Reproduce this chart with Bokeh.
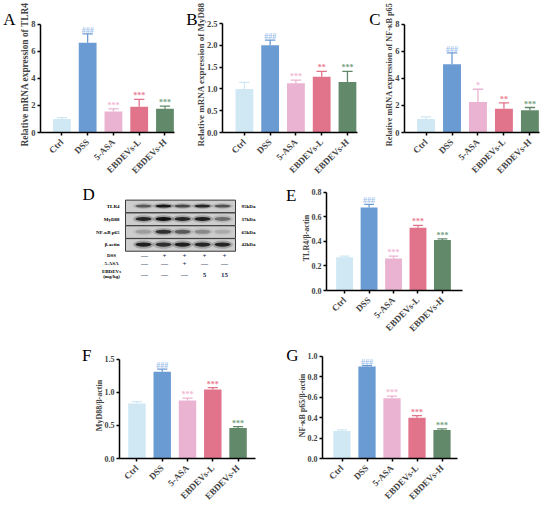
import math
from bokeh.plotting import figure
from bokeh.layouts import row, column
from bokeh.models import Range1d, FixedTicker, LinearAxis, PrintfTickFormatter
from bokeh.core.properties import value
from bokeh.embed import file_html
from bokeh.resources import INLINE

FONT = "Liberation Serif"

groups = ["Ctrl", "DSS", "5-ASA", "EBDEVs-L", "EBDEVs-H"]
bar_colors = ["#cfe8f4", "#6b9bd3", "#eab3d1", "#e1738b", "#62896a"]
mark_colors = ["#cfe8f4", "#9cc0ea", "#f3b7d7", "#eb7a92", "#73a07d"]

# Panel A: Relative mRNA expression of TLR4
tlr4_mrna = [1.0, 6.65, 1.55, 1.9, 1.75]
tlr4_mrna_top = [1.1, 7.3, 1.75, 2.45, 1.95]
tlr4_mrna_marks = ["", "###", "***", "***", "***"]
# Panel B: Relative mRNA expression of MyD88
myd88_mrna = [1.0, 2.0, 1.13, 1.28, 1.16]
myd88_mrna_top = [1.15, 2.12, 1.2, 1.4, 1.4]
myd88_mrna_marks = ["", "###", "***", "**", "***"]
# Panel C: Relative mRNA expression of NF-kB p65
nfkb_mrna = [1.0, 5.05, 2.25, 1.75, 1.65]
nfkb_mrna_top = [1.15, 5.9, 3.2, 2.2, 1.85]
nfkb_mrna_marks = ["", "###", "*", "**", "***"]
# Panel E: TLR4/beta-actin
tlr4_prot = [0.27, 0.675, 0.26, 0.51, 0.41]
tlr4_prot_top = [0.28, 0.70, 0.28, 0.53, 0.42]
tlr4_prot_marks = ["", "###", "***", "***", "***"]
# Panel F: MyD88/beta-actin
myd88_prot = [0.83, 1.31, 0.875, 1.04, 0.46]
myd88_prot_top = [0.86, 1.35, 0.91, 1.07, 0.48]
myd88_prot_marks = ["", "###", "***", "***", "***"]
# Panel G: NF-kB p65/beta-actin
nfkb_prot = [0.27, 0.90, 0.59, 0.40, 0.28]
nfkb_prot_top = [0.28, 0.91, 0.61, 0.42, 0.29]
nfkb_prot_marks = ["", "###", "***", "***", "***"]

# Panel D: western blot
blot_rows = ["TLR4", "MyD88", "NF-\u03baB p65", "\u03b2-actin"]
blot_kda = ["95kDa", "37kDa", "65kDa", "42kDa"]
band_tlr4 = [0.55, 0.95, 0.65, 0.85, 0.6]
band_myd88 = [0.85, 1.0, 0.85, 0.9, 0.45]
band_nfkb = [0.2, 0.8, 0.55, 0.3, 0.15]
band_actin = [0.9, 0.8, 0.9, 0.85, 0.85]
treat_rows = ["DSS", "5-ASA", "EBDEVs", "(mg/kg)"]
treat_dss = ["\u2014", "+", "+", "+", "+"]
treat_asa = ["\u2014", "\u2014", "+", "\u2014", "\u2014"]
treat_ebd = ["\u2014", "\u2014", "\u2014", "5", "15"]


def bar_panel(w, h, fl, fw, ft, fh, xr, ymax, yticks, fmt, vals, tops, marks,
              ytitle, tick_size, title_size, letter, lcy, lstand):
    # frame is extended upward so the panel letter (an extra left axis label) fits
    ft_new = max(0, min(ft, int(lcy) - 3))
    ytop = ymax + (ft - ft_new) / fh * ymax
    p = figure(width=w, height=h, x_range=Range1d(*xr), y_range=Range1d(0, ytop),
               output_backend="svg", toolbar_location=None,
               min_border_left=fl, min_border_right=w - fl - fw,
               min_border_top=ft_new, min_border_bottom=h - ft - fh)
    p.outline_line_color = None
    p.grid.visible = False
    idx = list(range(len(groups)))
    p.vbar(x=idx, top=vals, width=0.69, fill_color=bar_colors, line_color=None)
    p.segment(x0=idx, y0=vals, x1=idx, y1=tops, line_color=bar_colors, line_width=1.3)
    p.segment(x0=[i - 0.2 for i in idx], y0=tops, x1=[i + 0.2 for i in idx], y1=tops,
              line_color=bar_colors, line_width=1.3)
    p.text(x=idx, y=tops, text=marks, text_color=mark_colors, text_align="center",
           text_baseline="bottom", text_font=value(FONT), text_font_style="bold",
           text_font_size="8px", y_offset=1)
    xa = p.xaxis[0]
    xa.ticker = FixedTicker(ticks=idx)
    xa.major_label_overrides = {i: g for i, g in zip(idx, groups)}
    xa.major_label_orientation = math.pi / 4
    ya = p.yaxis[0]
    ya.ticker = FixedTicker(ticks=yticks)
    ya.formatter = PrintfTickFormatter(format=fmt)
    ya.bounds = (0, ymax)
    ya.axis_label = ytitle
    ya.axis_label_text_font = FONT
    ya.axis_label_text_font_style = "bold"
    ya.axis_label_text_font_size = title_size
    ya.axis_label_standoff = -2
    for ax in (xa, ya):
        ax.axis_line_width = 1.5
        ax.axis_line_color = "black"
        ax.major_tick_line_width = 1.5
        ax.major_tick_out = 3
        ax.major_tick_in = 0
        ax.minor_tick_line_color = None
        ax.major_label_text_font = FONT
        ax.major_label_text_font_style = "bold"
        ax.major_label_text_font_size = tick_size
        ax.major_label_standoff = 2
    xa.major_label_text_font_size = "9px"
    xa.major_label_standoff = 5
    # panel letter drawn as the label of an extra, line-less left axis
    yl = ymax - (lcy - ft) / fh * ymax
    la = LinearAxis(ticker=FixedTicker(ticks=[yl]), major_label_overrides={yl: letter},
                    axis_line_color=None, major_tick_line_color=None,
                    major_tick_out=0, major_tick_in=0, minor_tick_out=0, minor_tick_in=0,
                    minor_tick_line_color=None, major_label_standoff=lstand,
                    major_label_text_font=FONT, major_label_text_font_size="17px",
                    major_label_text_font_style="normal", major_label_text_color="black")
    p.add_layout(la, "left")
    return p


pA = bar_panel(183, 182, 39, 135, 23, 109, (-0.83, 4.37), 8, [0, 2, 4, 6, 8], "%d",
               tlr4_mrna, tlr4_mrna_top, tlr4_mrna_marks,
               "Relative mRNA expression of TLR4", "8.5px", "9.4px", "A", 18.5, 2)
pB = bar_panel(183, 182, 39, 135, 23, 109, (-0.85, 4.39), 2.5,
               [0, 0.5, 1.0, 1.5, 2.0, 2.5], "%.1f",
               myd88_mrna, myd88_mrna_top, myd88_mrna_marks,
               "Relative mRNA expression of MyD88", "8.5px", "9px", "B", 19, -5)
pC = bar_panel(184, 182, 38, 135, 23, 109, (-0.83, 4.37), 8, [0, 2, 4, 6, 8], "%d",
               nfkb_mrna, nfkb_mrna_top, nfkb_mrna_marks,
               "Relative mRNA expression of NF-\u03baB p65", "8.5px", "8.2px", "C", 18.5, 2)
pE = bar_panel(267, 158, 40, 139, 10, 105, (-0.74, 4.82), 0.8,
               [0, 0.2, 0.4, 0.6, 0.8], "%.1f",
               tlr4_prot, tlr4_prot_top, tlr4_prot_marks,
               "TLR4/\u03b2-actin", "8px", "8px", "E", 6.5, 2)
pF = bar_panel(280, 168, 119, 136, 17, 105, (-0.69, 4.69), 1.5,
               [0, 0.5, 1.0, 1.5], "%.1f",
               myd88_prot, myd88_prot_top, myd88_prot_marks,
               "MyD88/\u03b2-actin", "8px", "8px", "F", 13.5, 0)
pG = bar_panel(270, 168, 42, 135, 16, 106, (-0.78, 4.62), 1.0,
               [0, 0.2, 0.4, 0.6, 0.8, 1.0], "%.1f",
               nfkb_prot, nfkb_prot_top, nfkb_prot_marks,
               "NF-\u03baB p65/\u03b2-actin", "8px", "8px", "G", 15, -4)

# Panel D (blot diagram) in page pixel coordinates
pD = figure(width=283, height=158, x_range=Range1d(0, 283), y_range=Range1d(340, 182),
            x_axis_type=None, y_axis_type=None, output_backend="svg",
            toolbar_location=None, min_border=0)
pD.outline_line_color = None
pD.grid.visible = False
lanes = [143, 163, 182, 202, 222]
sign_x = [144, 164, 184, 204, 224]
row_y = [213.5, 232.8, 252.1, 271.4]
pD.rect(x=[180] * 4, y=row_y, width=110, height=19, fill_color="#cdcdcd",
        line_color="#3a3a3a", line_width=1)
band_sets = [band_tlr4, band_myd88, band_nfkb, band_actin]
band_h = [4.5, 6.0, 6.0, 6.5]
for r, (bands, bh) in enumerate(zip(band_sets, band_h)):
    yy = [row_y[r] - 0.5] * 5
    pD.ellipse(x=lanes, y=yy, width=21, height=bh * 1.9, fill_color="#2a2a2a",
               fill_alpha=[b * 0.3 for b in bands], line_color=None)
    pD.ellipse(x=lanes, y=yy, width=16, height=bh, fill_color="#111111",
               fill_alpha=bands, line_color=None)
pD.text(x=[119] * 4, y=row_y, text=blot_rows, text_align="right", text_baseline="middle",
        text_font=value(FONT), text_font_style="bold", text_font_size="5px")
pD.text(x=[241] * 4, y=row_y, text=blot_kda, text_align="left", text_baseline="middle",
        text_font=value(FONT), text_font_style="bold", text_font_size="5px")
pD.text(x=[111] * 4, y=[288, 300, 312, 318.5], text=treat_rows,
        text_align="center", text_baseline="middle",
        text_font=value(FONT), text_font_style="bold", text_font_size="5px")
for yy, signs in zip([288, 300, 317], [treat_dss, treat_asa, treat_ebd]):
    pD.text(x=sign_x, y=[yy] * 5, text=signs, text_align="center", text_baseline="middle",
            text_font=value(FONT), text_font_style="bold", text_font_size="7px",
            text_color="#1d3358")
pD.text(x=[82], y=[195.5], text=["D"], text_align="left", text_baseline="alphabetic",
        text_font=value(FONT), text_font_size="17px")

layout = column(row(pA, pB, pC), row(pD, pE), row(pF, pG))
open("out.html", "w").write(file_html(layout, INLINE))
